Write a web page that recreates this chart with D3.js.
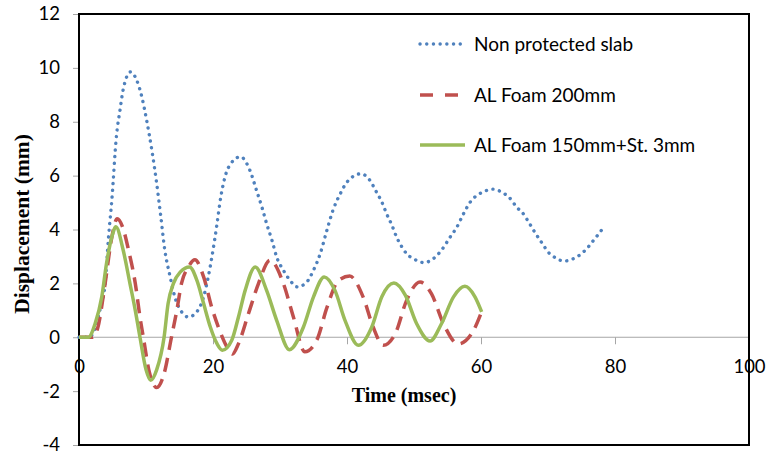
<!DOCTYPE html>
<html>
<head>
<meta charset="utf-8">
<script src="https://cdn.jsdelivr.net/npm/d3@7"></script>
<style>
  html, body { margin: 0; padding: 0; background: #fff; }
  svg { display: block; }
</style>
</head>
<body>
<svg id="chart" width="767" height="455"></svg>
<script>
// ---- data ----
const seriesNames = ["Non protected slab", "AL Foam 200mm", "AL Foam 150mm+St. 3mm"];

const timeNP = [0,1.5,2.5,3.2,3.9,4.4,4.9,5.6,6.1,6.6,7.7,8.6,9.4,10.1,10.9,11.6,12.2,12.8,13.6,14.3,15.3,16.3,17.6,18.6,19.3,20.3,21.3,22.3,24.1,25.5,26.5,27.3,28,28.8,29.5,30.5,31.5,32.6,34,35,36,37,37.9,39,40,42.1,43.4,44.4,45.2,45.9,46.7,47.4,48.2,48.9,49.9,51.5,52.9,54.1,55.4,56.4,57.4,58.4,59.4,60.3,61.7,63,64.6,65.3,66.1,67.1,68.1,69.1,70.1,70.8,71.5,72.5,73.4,74.3,75.3,76,77,77.8,78.4];
const dispNP = [0,0,0.4,1.1,2,3.7,5.1,7.5,8.4,9.2,9.85,9.55,8.9,8.05,6.9,5.7,4.5,3.25,2.25,1.5,0.95,0.75,0.95,1.5,2.25,3.7,5.4,6.3,6.7,6.2,5.45,4.83,4.22,3.6,2.98,2.49,2.11,1.87,2.05,2.49,3.1,3.97,4.71,5.33,5.76,6.07,5.83,5.39,5.02,4.59,4.16,3.72,3.35,3.1,2.92,2.77,2.92,3.23,3.72,4.09,4.59,5.02,5.27,5.39,5.5,5.4,5.08,4.83,4.65,4.28,3.87,3.5,3.14,3.0,2.89,2.83,2.88,2.98,3.17,3.35,3.66,3.91,4.12];

const timeAL200 = [0,2,2.8,3.9,4.9,5.7,6.5,7.4,8.4,9.1,9.6,10.5,11.6,12.7,13.8,14.6,15.3,16.3,17.3,18.6,19.8,20.8,22.3,22.9,23.8,25.3,26.8,28.5,30.5,32,33.7,35.5,37,38.7,40.4,42.4,43.9,45.4,47.2,48.9,50.9,52.6,54.4,56.6,58.9,60.1];
const dispAL200 = [0,0,0.35,2,3.72,4.4,4.1,3.23,2.0,0.75,0,-1.3,-1.87,-1.35,0,1.0,2.0,2.6,2.88,2.24,1.12,0.38,-0.45,-0.62,-0.24,0.88,2.0,2.86,2.0,0.75,-0.54,-0.1,1.1,2.1,2.27,1.5,0.38,-0.3,0.13,1.37,2.05,1.62,0.5,-0.25,0.26,0.95];

const timeAL150 = [0,1.4,2.4,3.4,4.1,4.9,5.5,6.6,7.6,8.4,9.1,10,10.7,11.6,12.7,13.3,14.1,15.1,16.5,17.6,18.6,19.6,20.6,21.4,22.8,23.8,24.8,26.3,28,29.5,31.4,33.5,35,36.6,38.2,39.7,41.7,43.7,45.2,47,48.7,50.4,52.4,54.1,55.9,57.6,59.1,60.1];
const dispAL150 = [0,0,0.5,1.5,2.73,3.72,4.1,3.23,2.0,1.0,0,-1.2,-1.6,-1.2,0,1.25,2.0,2.42,2.61,2.11,1.25,0.38,-0.24,-0.48,-0.11,0.75,1.74,2.61,1.74,0.63,-0.46,0.38,1.5,2.24,1.74,0.63,-0.3,0.38,1.5,2.01,1.56,0.5,-0.14,0.5,1.5,1.89,1.5,0.94];

const xTicks = [0,20,40,60,80,100];
const yTicks = [-4,-2,0,2,4,6,8,10,12];

// ---- chart ----
const svg = d3.select("#chart");
const x = d3.scaleLinear().domain([0,100]).range([79,749]);
const y = d3.scaleLinear().domain([-4,12]).range([445,14]);

const tickFont = "Lato, 'Open Sans', sans-serif";
const fmt = d => String(d);

// zero gridline
svg.append("line")
  .attr("x1", x(0)).attr("x2", x(100))
  .attr("y1", y(0)).attr("y2", y(0))
  .attr("stroke", "#a6a6a6").attr("stroke-width", 1);

// y axis
const yAx = svg.append("g").attr("transform", `translate(${x(0)},0)`)
  .call(d3.axisLeft(y).tickValues(yTicks).tickSize(6).tickPadding(13).tickFormat(fmt));
yAx.select(".domain").remove();
yAx.selectAll("line").attr("stroke", "#a6a6a6");
yAx.selectAll("text").attr("font-family", tickFont).attr("font-size", 18.5).attr("fill", "#000");

// x axis at y=0
const xAx = svg.append("g").attr("transform", `translate(0,${y(0)})`)
  .call(d3.axisBottom(x).tickValues(xTicks).tickSize(7).tickPadding(16).tickFormat(fmt));
xAx.select(".domain").remove();
xAx.selectAll("line").attr("stroke", "#a6a6a6");
xAx.selectAll("text").attr("font-family", tickFont).attr("font-size", 18.5).attr("fill", "#000");

// plot frame
svg.append("rect")
  .attr("x", x(0)).attr("y", y(12))
  .attr("width", x(100) - x(0)).attr("height", y(-4) - y(12))
  .attr("fill", "none").attr("stroke", "#000").attr("stroke-width", 2);

// lines
const line = d3.line().x(d => x(d[0])).y(d => y(d[1])).curve(d3.curveMonotoneX);
const series = [
  { name: seriesNames[0], t: timeNP, v: dispNP, color: "#4F81BD", dash: "0.1,6.6", cap: "round", width: 3.4 },
  { name: seriesNames[1], t: timeAL200, v: dispAL200, color: "#C0504D", dash: "14,8", cap: "butt", width: 3.5 },
  { name: seriesNames[2], t: timeAL150, v: dispAL150, color: "#9BBB59", dash: null, cap: "butt", width: 3.5 }
];

series.forEach(s => {
  const pts = s.t.map((t, i) => [t, s.v[i]]);
  svg.append("path")
    .attr("d", line(pts))
    .attr("fill", "none")
    .attr("stroke", s.color)
    .attr("stroke-width", s.width)
    .attr("stroke-linecap", s.cap)
    .attr("stroke-dasharray", s.dash);
});

// legend
const legY = [44, 95, 145];
series.forEach((s, i) => {
  svg.append("line")
    .attr("x1", 420).attr("x2", 465)
    .attr("y1", legY[i]).attr("y2", legY[i])
    .attr("stroke", s.color).attr("stroke-width", s.width)
    .attr("stroke-linecap", s.cap)
    .attr("stroke-dasharray", i === 1 ? "13,12" : s.dash);
  svg.append("text")
    .attr("x", 474).attr("y", legY[i] + 6.5)
    .attr("font-family", tickFont).attr("font-size", 19).attr("fill", "#000")
    .text(s.name);
});

// axis titles
svg.append("text")
  .attr("transform", "translate(29,224) rotate(-90)")
  .attr("text-anchor", "middle")
  .attr("font-family", "'Liberation Serif', 'Times New Roman', serif")
  .attr("font-weight", "bold").attr("font-size", 21.5)
  .text("Displacement (mm)");

svg.append("text")
  .attr("x", 404).attr("y", 402)
  .attr("text-anchor", "middle")
  .attr("font-family", "'Liberation Serif', 'Times New Roman', serif")
  .attr("font-weight", "bold").attr("font-size", 20)
  .text("Time (msec)");
</script>
</body>
</html>
